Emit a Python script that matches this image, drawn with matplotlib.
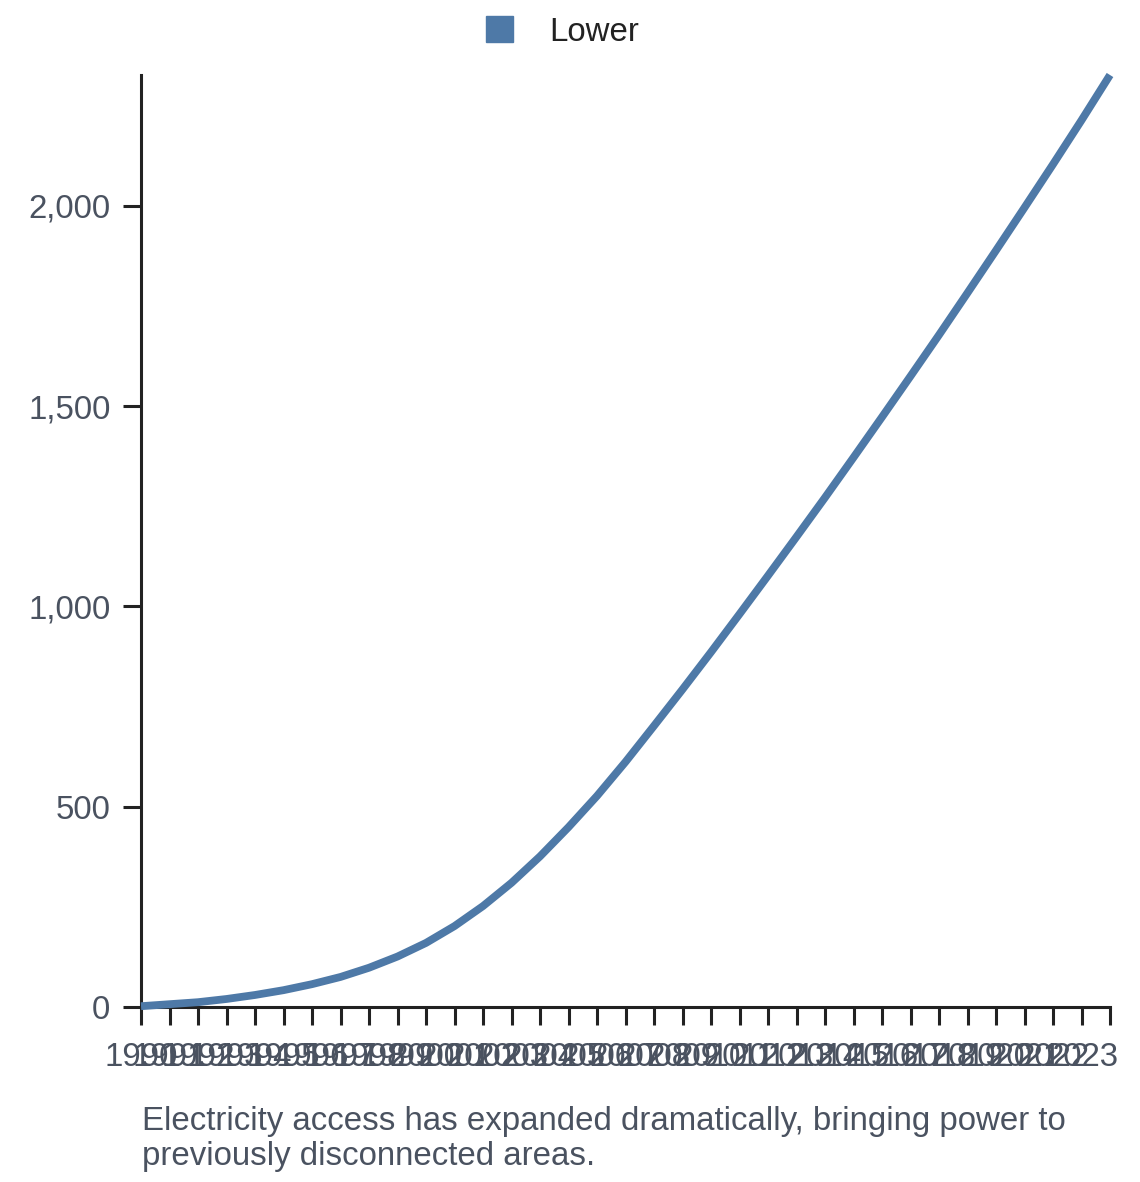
import matplotlib
matplotlib.use("Agg")
import matplotlib.pyplot as plt
from matplotlib.patches import Patch

years = list(range(1990, 2025))
lower = [2, 7, 12, 20, 30, 42, 57, 75, 98, 126, 160, 202, 252, 310, 376, 449,
         527, 612, 702, 793, 886, 981, 1077, 1174, 1272, 1372, 1473, 1575, 1678,
         1783, 1889, 1996, 2104, 2214, 2327]
x_tick_labels = [str(y) for y in range(1990, 2024)] + [""]
y_ticks = [0, 500, 1000, 1500, 2000]
y_tick_labels = ["0", "500", "1,000", "1,500", "2,000"]
series_name = "Lower"
caption = ("Electricity access has expanded dramatically, bringing power to\n"
           "previously disconnected areas.")

plt.rcParams['font.family'] = ['Liberation Sans', 'DejaVu Sans']
TXT = "#4a5260"
LINE = "#4e79a7"
FS = 23.8

W, H = 1140, 1182
fig = plt.figure(figsize=(W / 100, H / 100), dpi=100)
ax = fig.add_axes([141 / W, 1 - 1007 / H, (1110 - 141) / W, (1007 - 75) / H])

ax.plot(years, lower, color=LINE, lw=5.6, solid_capstyle='butt', clip_on=False, zorder=3)
ax.set_xlim(1990, 2024)
ax.set_ylim(0, max(lower))

for s in ['top', 'right']:
    ax.spines[s].set_visible(False)
for s in ['left', 'bottom']:
    ax.spines[s].set_linewidth(2.2)
    ax.spines[s].set_color("#222222")

ax.set_xticks(years)
ax.set_xticklabels(x_tick_labels)
ax.set_yticks(y_ticks)
ax.set_yticklabels(y_tick_labels)
ax.tick_params(axis='both', length=13, width=2.2, color="#222222",
               labelsize=FS, labelcolor=TXT)
ax.tick_params(axis='x', pad=12)
ax.tick_params(axis='y', pad=9)

handle = Patch(facecolor=LINE, edgecolor=LINE, label=series_name)
leg = fig.legend(handles=[handle], loc='center',
                 bbox_to_anchor=((487 + 638) / 2 / W, 1 - 32 / H),
                 frameon=False, fontsize=FS, handlelength=0.8, handleheight=0.8,
                 handletextpad=1.1, borderpad=0, borderaxespad=0)
for t in leg.get_texts():
    t.set_color("#222222")

fig.text(142 / W, 1 - 1106 / H, caption, fontsize=FS, color=TXT,
         ha='left', va='top', linespacing=1.16)

fig.savefig("out.png", dpi=100)
